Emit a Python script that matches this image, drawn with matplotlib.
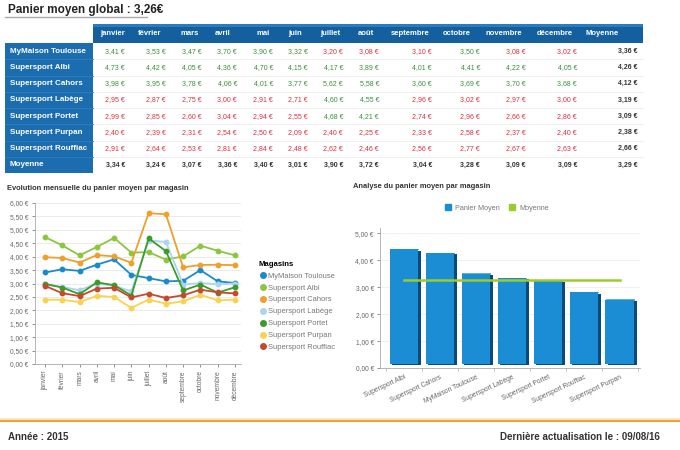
import matplotlib
matplotlib.use("Agg")
import matplotlib.pyplot as plt
from matplotlib.patches import Rectangle
from matplotlib.lines import Line2D
import numpy as np

plt.rcParams['font.family'] = ['Liberation Sans', 'DejaVu Sans']

months = ["janvier", "février", "mars", "avril", "mai", "juin", "juillet", "août",
          "septembre", "octobre", "novembre", "décembre"]
stores = ["MyMaison Toulouse", "Supersport Albi", "Supersport Cahors", "Supersport Labège",
          "Supersport Portet", "Supersport Purpan", "Supersport Rouffiac"]

toulouse = [3.41, 3.53, 3.47, 3.70, 3.90, 3.32, 3.20, 3.08, 3.10, 3.50, 3.08, 3.02]
albi     = [4.73, 4.42, 4.05, 4.36, 4.70, 4.15, 4.17, 3.89, 4.01, 4.41, 4.22, 4.05]
cahors   = [3.98, 3.95, 3.78, 4.06, 4.01, 3.77, 5.62, 5.58, 3.60, 3.69, 3.70, 3.68]
labege   = [2.95, 2.87, 2.75, 3.00, 2.91, 2.71, 4.60, 4.55, 2.96, 3.02, 2.97, 3.00]
portet   = [2.99, 2.85, 2.60, 3.04, 2.94, 2.55, 4.68, 4.21, 2.74, 2.96, 2.66, 2.86]
purpan   = [2.40, 2.39, 2.31, 2.54, 2.50, 2.09, 2.40, 2.25, 2.33, 2.58, 2.37, 2.40]
rouffiac = [2.91, 2.64, 2.53, 2.81, 2.84, 2.48, 2.62, 2.46, 2.56, 2.77, 2.67, 2.63]
moyenne_mois = [3.34, 3.24, 3.07, 3.36, 3.40, 3.01, 3.90, 3.72, 3.04, 3.28, 3.09, 3.09]
moyenne_store = [3.36, 4.26, 4.12, 3.19, 3.09, 2.38, 2.66]
moyenne_globale_tab = 3.29
panier_global = 3.26

series = [toulouse, albi, cahors, labege, portet, purpan, rouffiac]
colors = ["#1a8bc9", "#8cc63e", "#eea02c", "#a9d5f0", "#3d9b2a", "#f6d452", "#c24a2e"]

bar_stores = ["Supersport Albi", "Supersport Cahors", "MyMaison Toulouse", "Supersport Labège",
              "Supersport Portet", "Supersport Rouffiac", "Supersport Purpan"]
bar_values = [4.26, 4.12, 3.36, 3.19, 3.09, 2.66, 2.38]

W, H = 680, 450
fig = plt.figure(figsize=(W / 100, H / 100), dpi=100)

def fx(x):
    return x / W

def fy(y):
    return 1 - y / H

def fmt(v):
    return f"{v:.2f}".replace(".", ",") + " €"

# ---- Title
fig.text(fx(8), fy(10), "Panier moyen global : " + f"{panier_global:.2f}".replace(".", ",") + "€",
         fontsize=8.5, fontweight="bold", color="#222222", va="center", ha="left")
fig.add_artist(Line2D([fx(5), fx(147)], [fy(17), fy(17)], color="#aaaaaa", lw=1.0,
                      transform=fig.transFigure))

# ---- Table
hdr_top, hdr_bot = 24, 43
row_h = 16.25
tbl_left, tbl_right = 93, 643
lab_left = 5
header_blue = "#14609f"
label_blue = "#1c6cb0"
fig.add_artist(Rectangle((fx(tbl_left), fy(hdr_bot)), fx(tbl_right - tbl_left), (hdr_bot - hdr_top) / H,
                         transform=fig.transFigure, facecolor=header_blue, edgecolor="none"))
fig.add_artist(Rectangle((fx(tbl_left), fy(hdr_top + 3)), fx(tbl_right - tbl_left), 3 / H,
                         transform=fig.transFigure, facecolor="#2a7bc0", edgecolor="none"))
nrows = len(stores) + 1
tbl_bot = hdr_bot + row_h * nrows
fig.add_artist(Rectangle((fx(lab_left), fy(tbl_bot)), fx(tbl_left - lab_left), (tbl_bot - hdr_bot) / H,
                         transform=fig.transFigure, facecolor=label_blue, edgecolor="none"))

hdr_cx = [113, 150, 190, 223, 263, 295, 330, 366, 410, 457, 504, 555]
val_rx = [125, 166, 202, 237, 273, 308, 343, 379, 432, 480, 526, 577]
moy_hdr_x = 585
moy_val_rx = 638

for m, cx in zip(months, hdr_cx):
    fig.text(fx(cx), fy((hdr_top + hdr_bot) / 2), m, color="white", fontsize=5.5,
             fontweight="bold", ha="center", va="center")
fig.text(fx(moy_hdr_x), fy((hdr_top + hdr_bot) / 2), "Moyenne", color="white", fontsize=5.5,
         fontweight="bold", ha="left", va="center")

green = "#3a8f3a"
red = "#d6303f"
all_rows = series + [moyenne_mois]
row_names = stores + ["Moyenne"]
row_means = moyenne_store + [moyenne_globale_tab]
for i, (name, vals, mean) in enumerate(zip(row_names, all_rows, row_means)):
    yc = hdr_bot + row_h * (i + 0.5)
    fig.text(fx(10), fy(yc), name, color="white", fontsize=5.8, fontweight="bold",
             ha="left", va="center")
    is_avg = (name == "Moyenne")
    for v, rx in zip(vals, val_rx):
        if is_avg:
            c, w = "#333333", "bold"
        else:
            c, w = (green if v > panier_global else red), "normal"
        fig.text(fx(rx), fy(yc), fmt(v), color=c, fontsize=5.0, fontweight=w,
                 ha="right", va="center")
    fig.text(fx(moy_val_rx), fy(yc), fmt(mean), color="#333333", fontsize=5.0,
             fontweight="bold", ha="right", va="center")
    yb = hdr_bot + row_h * (i + 1)
    if i < nrows - 1:
        fig.add_artist(Line2D([fx(tbl_left), fx(tbl_right)], [fy(yb), fy(yb)], color="#eeeeee",
                              lw=0.6, transform=fig.transFigure))
        fig.add_artist(Line2D([fx(lab_left), fx(tbl_left)], [fy(yb), fy(yb)], color="#2f7fc2",
                              lw=0.6, transform=fig.transFigure))

# ---- Line chart
fig.text(fx(7), fy(188), "Evolution mensuelle du panier moyen par magasin", fontsize=5.4,
         fontweight="bold", color="#333333", ha="left", va="center")
ax1 = fig.add_axes([fx(35), fy(364), fx(241 - 35), (364 - 203) / H])
xs = np.arange(len(months))
for s, name, c in zip(series, stores, colors):
    ax1.plot(xs, s, color=c, lw=1.3, marker="o", ms=3.2, label=name, zorder=3)
ax1.set_xlim(-0.58, 11.35)
ax1.set_ylim(0, 6.0)
ax1.set_yticks(np.arange(0, 6.01, 0.5))
ax1.set_yticklabels([fmt(v) for v in np.arange(0, 6.01, 0.5)])
ax1.set_xticks(xs)
ax1.set_xticklabels(months, rotation=90)
ax1.tick_params(axis="both", labelsize=4.8, colors="#666666", length=2.5, width=0.5, pad=2)
ax1.grid(axis="y", color="#e8e8e8", lw=0.6)
ax1.set_axisbelow(True)
for sp in ["top", "right"]:
    ax1.spines[sp].set_visible(False)
for sp in ["left", "bottom"]:
    ax1.spines[sp].set_color("#aaaaaa")
    ax1.spines[sp].set_linewidth(0.6)

handles = [Line2D([], [], color=c, marker="o", ls="none", ms=4) for c in colors]
leg = fig.legend(handles, stores, loc="upper left", bbox_to_anchor=(fx(252), fy(254)),
                 bbox_transform=fig.transFigure, frameon=False, fontsize=5.4,
                 title="Magasins", title_fontproperties={"weight": "bold", "size": 5.6},
                 labelspacing=0.62, handletextpad=0.2, handlelength=1.0, alignment="left")
for t in leg.get_texts():
    t.set_color("#777777")

# ---- Bar chart
fig.text(fx(353), fy(187), "Analyse du panier moyen par magasin", fontsize=5.4,
         fontweight="bold", color="#333333", ha="left", va="center")
ax2 = fig.add_axes([fx(380), fy(368), fx(640 - 380), (368 - 228) / H])
bx = np.arange(len(bar_stores))
front = "#1a8dd4"
side = "#0a4a78"
top = "#5fb2e6"
lift = 0.15
ax2.bar(bx + 0.07, bar_values, width=0.8, bottom=lift - 0.05, color=side, zorder=2)
ax2.bar(bx, bar_values, width=0.8, bottom=lift, color=front, zorder=3)
ax2.bar(bx + 0.02, [0.06] * len(bx), width=0.8, bottom=[v + lift - 0.04 for v in bar_values],
        color=top, zorder=2.5)
ax2.plot([bx[0], bx[-1]], [panier_global, panier_global], color="#9ccc2c", lw=1.8, zorder=4)
ax2.set_xlim(-0.67, 6.56)
ax2.set_ylim(0, 5.2)
ax2.set_yticks(np.arange(0, 5.01, 1))
ax2.set_yticklabels([fmt(v) for v in np.arange(0, 5.01, 1)])
ax2.set_xticks(bx)
ax2.set_xticklabels(bar_stores, rotation=25, ha="right", rotation_mode="anchor")
ax2.tick_params(axis="y", labelsize=4.8, colors="#666666", length=2.5, width=0.5, pad=2)
ax2.tick_params(axis="x", labelsize=4.8, colors="#666666", length=0, pad=4)
ax2.set_xticks(np.arange(-0.5, len(bx), 1), minor=True)
ax2.tick_params(axis="x", which="minor", length=2.5, width=0.5, color="#aaaaaa")
ax2.grid(axis="y", color="#eeeeee", lw=0.6)
ax2.set_axisbelow(True)
for sp in ["top", "right"]:
    ax2.spines[sp].set_visible(False)
for sp in ["left", "bottom"]:
    ax2.spines[sp].set_color("#aaaaaa")
    ax2.spines[sp].set_linewidth(0.6)

bh = [Line2D([], [], color=front, marker="s", ls="none", ms=4),
      Line2D([], [], color="#9ccc2c", marker="s", ls="none", ms=4)]
leg2 = fig.legend(bh, ["Panier Moyen", "Moyenne"], loc="center", bbox_to_anchor=(fx(497), fy(208)),
                  bbox_transform=fig.transFigure, frameon=False, fontsize=5.2, ncol=2,
                  handletextpad=0.5, handlelength=1.0, columnspacing=1.2)
for t in leg2.get_texts():
    t.set_color("#777777")

# ---- Footer
fig.add_artist(Line2D([0, 1], [fy(421), fy(421)], color="#f0a030", lw=1.5, transform=fig.transFigure))
fig.add_artist(Line2D([0, 1], [fy(419), fy(419)], color="#fbe6c0", lw=1.5, transform=fig.transFigure))
fig.text(fx(8), fy(437), "Année : 2015", fontsize=7, fontweight="bold", color="#333333",
         ha="left", va="center")
fig.text(fx(660), fy(437), "Dernière actualisation le : 09/08/16", fontsize=7, fontweight="bold",
         color="#333333", ha="right", va="center")

fig.savefig("out.png", dpi=100)
